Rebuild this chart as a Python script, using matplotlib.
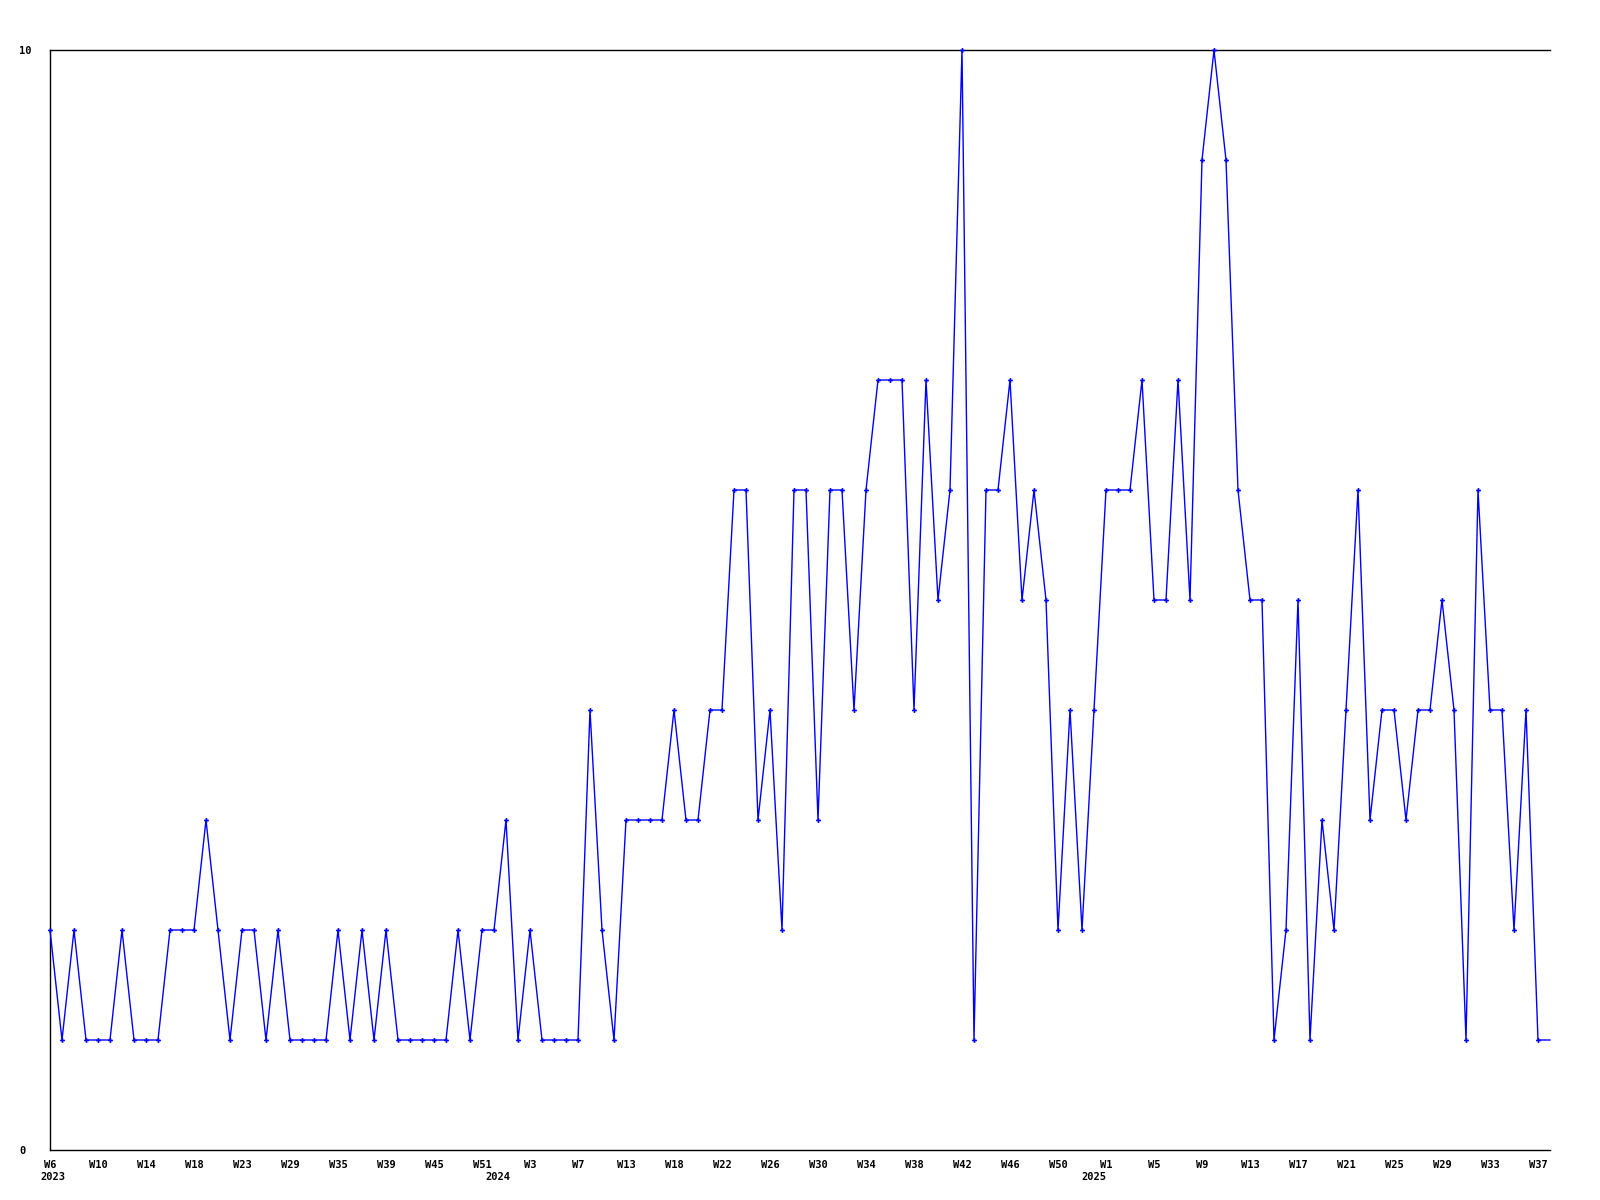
import matplotlib
matplotlib.use("Agg")
import matplotlib.pyplot as plt

# ---- data ----
values = [2, 1, 2, 1, 1, 1, 2, 1, 1, 1, 2, 2, 2, 3, 2, 1, 2, 2, 1, 2,
          1, 1, 1, 1, 2, 1, 2, 1, 2, 1, 1, 1, 1, 1, 2, 1, 2, 2, 3, 1,
          2, 1, 1, 1, 1, 4, 2, 1, 3, 3, 3, 3, 4, 3, 3, 4, 4, 6, 6, 3,
          4, 2, 6, 6, 3, 6, 6, 4, 6, 7, 7, 7, 4, 7, 5, 6, 10, 1, 6, 6,
          7, 5, 6, 5, 2, 4, 2, 4, 6, 6, 6, 7, 5, 5, 7, 5, 9, 10, 9, 6,
          5, 5, 1, 2, 5, 1, 3, 2, 4, 6, 3, 4, 4, 3, 4, 4, 5, 4, 1, 6,
          4, 4, 2, 4, 1, 1]

week_labels = ["W6", "W10", "W14", "W18", "W23", "W29", "W35", "W39", "W45", "W51",
               "W3", "W7", "W13", "W18", "W22", "W26", "W30", "W34", "W38", "W42",
               "W46", "W50", "W1", "W5", "W9", "W13", "W17", "W21", "W25", "W29",
               "W33", "W37"]
label_step = 4
year_labels = ["2023", "2024", "2025"]
year_label_x = [0.2, 37.3, 87.0]   # layout positions (index units)
y_labels = ["0", "10"]
y_ticks = [0, 10]

# ---- figure ----
W, H, DPI = 1600, 1200, 100
fig = plt.figure(figsize=(W / DPI, H / DPI), dpi=DPI, facecolor="white")
ax = fig.add_axes([50 / W, 1 - 1150 / H, 1500 / W, 1100 / H])

n = len(values)
xs = list(range(n))
ax.plot(xs, values, color="#0000ff", linewidth=1.0,
        marker="P", markersize=3.5, markeredgewidth=0,
        markevery=list(range(n - 1)), clip_on=False, zorder=3)

ax.set_xlim(0, n - 1)
ax.set_ylim(0, 10)

for s in ["left", "top", "bottom"]:
    ax.spines[s].set_color("black")
    ax.spines[s].set_linewidth(1.0)
ax.spines["right"].set_visible(False)

font = dict(family="DejaVu Sans Mono", weight="bold", size=7.5)

ax.set_xticks(list(range(0, label_step * len(week_labels), label_step)))
ax.set_xticklabels(week_labels, **font)
ax.tick_params(axis="x", length=0, pad=7)

ax.set_yticks(y_ticks)
ax.set_yticklabels(y_labels, **font)
ax.tick_params(axis="y", length=0, pad=22)
for t in ax.get_yticklabels():
    t.set_horizontalalignment("left")

for lab, xp in zip(year_labels, year_label_x):
    ax.annotate(lab, xy=(xp, 0), xycoords=("data", "axes fraction"),
                xytext=(0, -19.5), textcoords="offset points",
                ha="center", va="center", **font)

fig.savefig("out.png", dpi=DPI, facecolor="white")
